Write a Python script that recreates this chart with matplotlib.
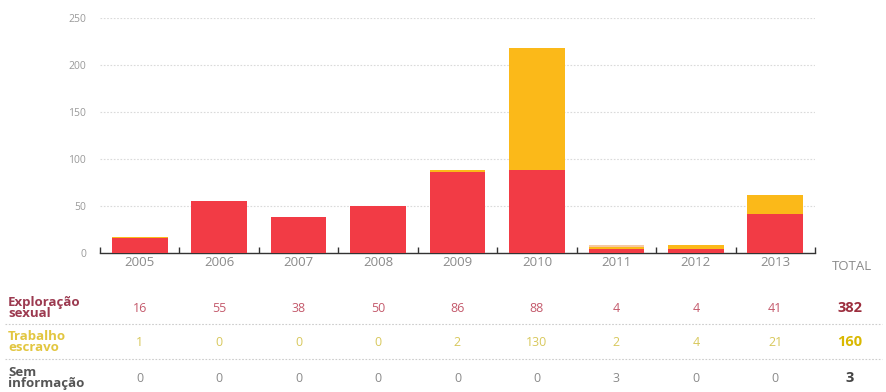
import matplotlib.pyplot as plt
import matplotlib.transforms as mtransforms
import numpy as np

years = ['2005', '2006', '2007', '2008', '2009', '2010', '2011', '2012', '2013']
exploracao = [16, 55, 38, 50, 86, 88, 4, 4, 41]
trabalho = [1, 0, 0, 0, 2, 130, 2, 4, 21]
sem_info = [0, 0, 0, 0, 0, 0, 3, 0, 0]
row_labels = ['Exploração\nsexual', 'Trabalho\nescravo', 'Sem\ninformação']
yticks = [0, 50, 100, 150, 200, 250]

plt.rcParams['font.family'] = ['Open Sans', 'DejaVu Sans']

red = '#f23b45'
yellow = '#fbb919'
peach = '#f6c8a2'

fig = plt.figure(figsize=(8.87, 3.92), dpi=100)
ax = fig.add_axes([100 / 887, 139 / 392, 715 / 887, 235 / 392])

x = np.arange(len(years))
expl = np.array(exploracao)
trab = np.array(trabalho)
sem = np.array(sem_info)
ax.bar(x, expl, width=0.7, color=red, zorder=3)
ax.bar(x, trab, width=0.7, bottom=expl, color=yellow, zorder=3)
ax.bar(x, sem, width=0.7, bottom=expl + trab, color=peach, zorder=3)

ax.set_xlim(-0.5, 8.5)
ax.set_ylim(0, 250)
ax.set_yticks(yticks)
ax.set_yticklabels([str(v) for v in yticks], fontsize=7.5, color='#9a9a9a')
ax.yaxis.grid(True, linestyle=(0, (1.5, 1.5)), color='#dadada', linewidth=0.8, zorder=0)

ax.set_xticks(x)
ax.set_xticklabels(years, fontsize=9.5, color='#8a8a8a')
ax.set_xticks(np.arange(-0.5, 9, 1), minor=True)
ax.tick_params(axis='x', which='major', length=0, pad=2)
ax.tick_params(axis='x', which='minor', direction='in', length=4, width=1, color='#333333')
ax.tick_params(axis='y', length=0, pad=10)

for side in ['top', 'right', 'left']:
    ax.spines[side].set_visible(False)
ax.spines['bottom'].set_color('#333333')
ax.spines['bottom'].set_linewidth(1.0)

trans = mtransforms.blended_transform_factory(ax.transData, fig.transFigure)
fig.text(852 / 887, 1 - 267 / 392, 'TOTAL', fontsize=9.5, color='#8a8a8a',
         ha='center', va='center')

rows = [exploracao, trabalho, sem_info]
row_y = [308, 342, 378]
label_colors = ['#9c3a50', '#e2c640', '#555555']
value_colors = ['#c45a6c', '#d8c85c', '#8a8a8a']
total_colors = ['#9c2e3e', '#d9b800', '#444444']
for vals, yy, lc, vc, tc, lab in zip(rows, row_y, label_colors, value_colors,
                                     total_colors, row_labels):
    fy = 1 - yy / 392
    fig.text(8 / 887, fy, lab, fontsize=9.5, fontweight='bold', color=lc,
             ha='left', va='center', linespacing=0.8)
    for i, v in enumerate(vals):
        ax.text(i, fy, str(v), transform=trans, fontsize=9, color=vc,
                ha='center', va='center')
    fig.text(850 / 887, fy, str(sum(vals)), fontsize=10.5, fontweight='bold',
             color=tc, ha='center', va='center')

for yy in [324, 359]:
    fig.add_artist(plt.Line2D([5 / 887, 882 / 887], [1 - yy / 392, 1 - yy / 392],
                              transform=fig.transFigure, color='#cccccc',
                              linestyle=(0, (1.5, 1.5)), linewidth=0.8))

fig.savefig('out.png', dpi=100)
